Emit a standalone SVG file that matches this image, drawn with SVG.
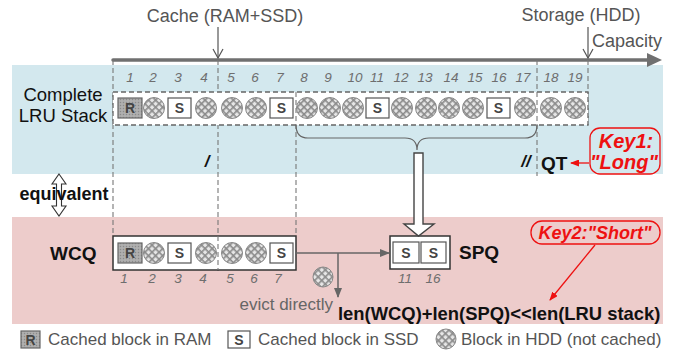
<svg xmlns="http://www.w3.org/2000/svg" width="678" height="352" viewBox="0 0 678 352">
  <defs>
    <pattern id="hatch" width="5" height="5" patternUnits="userSpaceOnUse" patternTransform="rotate(45)">
      <rect width="5" height="5" fill="#e6e6e6"/>
      <rect width="5" height="1.6" fill="#8a8a8a"/>
      <rect width="1.6" height="5" fill="#8a8a8a"/>
    </pattern>
    <pattern id="stipple" width="3" height="3" patternUnits="userSpaceOnUse">
      <rect width="3" height="3" fill="#a9a9a9"/>
      <rect width="1" height="1" fill="#8a8a8a"/>
      <rect x="1.5" y="1.5" width="1" height="1" fill="#c2c2c2"/>
    </pattern>
    <marker id="grayHead" markerWidth="10" markerHeight="8" refX="9" refY="4" orient="auto" markerUnits="userSpaceOnUse">
      <path d="M0,0 L10,4 L0,8 Z" fill="#666"/>
    </marker>
    <marker id="redHead" markerWidth="9" markerHeight="7" refX="8" refY="3.5" orient="auto" markerUnits="userSpaceOnUse">
      <path d="M0,0 L9,3.5 L0,7 Z" fill="#ee1111"/>
    </marker>
    <style>
      .lbl { font-family: "Liberation Sans", Arial, sans-serif; }
      .big { font-size: 18.5px; fill: #111; }
      .bold { font-size: 19px; font-weight: bold; fill: #111; }
      .axisLbl { font-size: 18px; fill: #555; }
      .num { font-family: "Liberation Sans", Arial, sans-serif; font-size: 13.5px; font-style: italic; fill: #6e6e6e; text-anchor: middle; }
      .key { font-family: "Liberation Sans", Arial, sans-serif; font-size: 18px; font-weight: bold; font-style: italic; fill: #ee1111; text-anchor: middle; }
      .key1 { font-size: 20px; }
      .leg { font-family: "Liberation Sans", Arial, sans-serif; font-size: 17px; fill: #555; }
      .dash { stroke: #777; stroke-width: 1.1; stroke-dasharray: 5 3; fill: none; }
      .hdd { fill: url(#hatch); stroke: #888; stroke-width: 1; }
      .ram { fill: url(#stipple); stroke: #666; stroke-width: 1.2; }
      .ssd { fill: #fff; stroke: #555; stroke-width: 1.2; }
      .blk { font-family: "Liberation Sans", Arial, sans-serif; font-size: 14px; font-weight: bold; fill: #444; text-anchor: middle; }
      .conn { stroke: #666; stroke-width: 1.5; fill: none; }
    </style>
  </defs>

  <!-- background bands -->
  <rect x="12" y="65" width="651" height="109" fill="#d3e8ee"/>
  <rect x="12" y="217" width="651" height="107" fill="#edcccb"/>

  <!-- capacity axis -->
  <g id="axis">
    <line x1="113" y1="60" x2="648" y2="60" stroke="#707070" stroke-width="3.5" stroke-linecap="round"/>
    <path d="M647,53 L662,60 L647,67 Z" fill="#707070"/>
    <text class="lbl axisLbl" x="225" y="22" text-anchor="middle">Cache (RAM+SSD)</text>
    <line x1="218" y1="27" x2="218" y2="58" stroke="#555" stroke-width="1.2"/>
    <path d="M213,49 L218,58 L223,49" stroke="#555" stroke-width="1.2" fill="none"/>
    <text class="lbl axisLbl" x="581" y="21" text-anchor="middle">Storage (HDD)</text>
    <line x1="588" y1="27" x2="588" y2="58" stroke="#555" stroke-width="1.2"/>
    <path d="M583,49 L588,58 L593,49" stroke="#555" stroke-width="1.2" fill="none"/>
    <text class="lbl axisLbl" x="592" y="47">Capacity</text>
  </g>

  <!-- boundary guides -->
  <g id="guides">
    <line class="dash" x1="113" y1="60" x2="113" y2="236"/>
    <line class="dash" x1="218" y1="60" x2="218" y2="271"/>
    <line class="dash" x1="296" y1="92" x2="296" y2="236"/>
    <line class="dash" x1="537" y1="60" x2="537" y2="176"/>
    <line class="dash" x1="588" y1="60" x2="588" y2="125"/>
  </g>

  <!-- complete LRU stack -->
  <g id="lru-stack">
    <text class="lbl big" x="63" y="101" text-anchor="middle">Complete</text>
    <text class="lbl big" x="63" y="122" text-anchor="middle">LRU Stack</text>
    <rect x="113" y="92" width="475" height="33" fill="#fff" stroke="#666" stroke-width="1.3" stroke-dasharray="5 3"/>
    <line class="dash" x1="296" y1="92" x2="296" y2="125"/>
    <line class="dash" x1="537" y1="92" x2="537" y2="125"/>
    <g class="nums">
      <text class="num" x="130" y="82">1</text>
      <text class="num" x="153" y="82">2</text>
      <text class="num" x="178" y="82">3</text>
      <text class="num" x="204" y="82">4</text>
      <text class="num" x="231" y="82">5</text>
      <text class="num" x="255" y="82">6</text>
      <text class="num" x="280" y="82">7</text>
      <text class="num" x="304" y="82">8</text>
      <text class="num" x="328" y="82">9</text>
      <text class="num" x="355" y="82">10</text>
      <text class="num" x="377" y="82">11</text>
      <text class="num" x="401" y="82">12</text>
      <text class="num" x="425" y="82">13</text>
      <text class="num" x="451" y="82">14</text>
      <text class="num" x="475" y="82">15</text>
      <text class="num" x="499" y="82">16</text>
      <text class="num" x="523" y="82">17</text>
      <text class="num" x="551" y="82">18</text>
      <text class="num" x="575" y="82">19</text>
    </g>
    <rect class="ram" x="118" y="98" width="24" height="20"/>
    <text class="blk" x="130" y="113">R</text>
    <circle class="hdd" cx="154" cy="108" r="10.5"/>
    <rect class="ssd" x="168" y="98" width="23" height="20"/>
    <text class="blk" x="179.5" y="113">S</text>
    <circle class="hdd" cx="206" cy="108" r="10.5"/>
    <circle class="hdd" cx="232" cy="108" r="10.5"/>
    <circle class="hdd" cx="256" cy="108" r="10.5"/>
    <rect class="ssd" x="270" y="98" width="23" height="20"/>
    <text class="blk" x="281.5" y="113">S</text>
    <circle class="hdd" cx="307" cy="108" r="10.5"/>
    <circle class="hdd" cx="330" cy="108" r="10.5"/>
    <circle class="hdd" cx="353" cy="108" r="10.5"/>
    <rect class="ssd" x="366" y="98" width="23" height="20"/>
    <text class="blk" x="377.5" y="113">S</text>
    <circle class="hdd" cx="402" cy="108" r="10.5"/>
    <circle class="hdd" cx="426" cy="108" r="10.5"/>
    <circle class="hdd" cx="449" cy="108" r="10.5"/>
    <circle class="hdd" cx="473" cy="108" r="10.5"/>
    <rect class="ssd" x="487" y="98" width="23" height="20"/>
    <text class="blk" x="498.5" y="113">S</text>
    <circle class="hdd" cx="525" cy="108" r="10.5"/>
    <circle class="hdd" cx="551" cy="108" r="10.5"/>
    <circle class="hdd" cx="575" cy="108" r="10.5"/>
    <!-- brace over blocks 8..17 -->
    <path d="M296,125 Q296,138 308,138 L405,138 Q417,138 417,150 Q417,138 429,138 L525,138 Q537,138 537,125" stroke="#666" stroke-width="1.2" fill="none"/>
    <text class="lbl" x="207" y="167" font-size="17" font-weight="bold" font-style="italic" fill="#111" text-anchor="middle">/</text>
    <text class="lbl" x="526" y="167" font-size="17" font-weight="bold" font-style="italic" fill="#111" text-anchor="middle">//</text>
    <text class="lbl bold" x="541" y="170">QT</text>
  </g>

  <!-- key 1 -->
  <g id="key1">
    <rect x="590" y="128" width="70" height="46" rx="10" fill="none" stroke="#ee1111" stroke-width="1.3"/>
    <text class="key key1" x="626" y="148">Key1:</text>
    <text class="key key1" x="624" y="169">"Long"</text>
  </g>

  <!-- equivalence mark -->
  <g id="equivalent">
    <path d="M59,174 L66,184 L61.5,184 L61.5,206 L66,206 L59,216 L52,206 L56.5,206 L56.5,184 L52,184 Z" fill="#fff" stroke="#333" stroke-width="1.1"/>
    <text class="lbl" x="64" y="200" font-size="18" font-weight="bold" fill="#111" text-anchor="middle">equivalent</text>
  </g>

  <!-- WCQ -->
  <g id="wcq">
    <text class="lbl bold" x="50" y="260">WCQ</text>
    <rect x="113" y="236" width="183" height="34" fill="#fff" stroke="#333" stroke-width="1.5"/>
    <line class="dash" x1="218" y1="236" x2="218" y2="270"/>
    <rect class="ram" x="118" y="243" width="24" height="20"/>
    <text class="blk" x="130" y="258">R</text>
    <circle class="hdd" cx="154" cy="253" r="10.5"/>
    <rect class="ssd" x="168" y="243" width="23" height="20"/>
    <text class="blk" x="179.5" y="258">S</text>
    <circle class="hdd" cx="206" cy="253" r="10.5"/>
    <circle class="hdd" cx="232" cy="253" r="10.5"/>
    <circle class="hdd" cx="256" cy="253" r="10.5"/>
    <rect class="ssd" x="270" y="243" width="23" height="20"/>
    <text class="blk" x="281.5" y="258">S</text>
    <text class="num" x="124" y="283">1</text>
    <text class="num" x="152" y="283">2</text>
    <text class="num" x="178" y="283">3</text>
    <text class="num" x="203" y="283">4</text>
    <text class="num" x="230" y="283">5</text>
    <text class="num" x="254" y="283">6</text>
    <text class="num" x="278" y="283">7</text>
  </g>

  <!-- SPQ -->
  <g id="spq">
    <rect x="390" y="236" width="60" height="33" fill="#fff" stroke="#333" stroke-width="1.5"/>
    <rect class="ssd" x="393" y="242" width="26" height="21" stroke="#333"/>
    <text class="blk" x="406" y="258" fill="#111">S</text>
    <rect class="ssd" x="421" y="242" width="25" height="21" stroke="#333"/>
    <text class="blk" x="433.5" y="258" fill="#111">S</text>
    <text class="num" x="405" y="283">11</text>
    <text class="num" x="433" y="283">16</text>
    <text class="lbl bold" x="459" y="259">SPQ</text>
  </g>

  <!-- connectors -->
  <g id="connectors">
    <path d="M414,153 L423,153 L423,224 L434,224 L418.5,236 L404,224 L414,224 Z" fill="#fff" stroke="#444" stroke-width="1.4"/>
    <line class="conn" x1="296" y1="253" x2="389" y2="253" marker-end="url(#grayHead)"/>
    <line class="conn" x1="338" y1="253" x2="338" y2="297" marker-end="url(#grayHead)"/>
    <circle class="hdd" cx="323" cy="277" r="10"/>
    <text class="lbl" x="333" y="310" font-size="17" fill="#666" text-anchor="end">evict directly</text>
    <line x1="589" y1="163" x2="571" y2="163" stroke="#ee1111" stroke-width="1.3" marker-end="url(#redHead)"/>
    <line x1="595" y1="245" x2="550" y2="300" stroke="#ee1111" stroke-width="1.3" marker-end="url(#redHead)"/>
  </g>

  <!-- key 2 -->
  <g id="key2">
    <rect x="531" y="221" width="129" height="23" rx="11" fill="none" stroke="#ee1111" stroke-width="1.3"/>
    <text class="key" x="595" y="239">Key2:"Short"</text>
  </g>

  <text class="lbl" x="338" y="320" font-size="18.4" font-weight="bold" fill="#111">len(WCQ)+len(SPQ)&lt;&lt;len(LRU stack)</text>

  <!-- legend -->
  <g id="legend">
    <rect class="ram" x="21" y="331" width="19" height="17"/>
    <text class="blk" x="30.5" y="345" font-size="13">R</text>
    <text class="leg" x="48" y="345">Cached block in RAM</text>
    <rect class="ssd" x="228" y="331" width="22" height="17" stroke="#333"/>
    <text class="blk" x="239" y="345" font-size="13" fill="#222">S</text>
    <text class="leg" x="258" y="345">Cached block in SSD</text>
    <circle class="hdd" cx="446" cy="339" r="10"/>
    <text class="leg" x="461" y="345">Block in HDD (not cached)</text>
  </g>
</svg>
